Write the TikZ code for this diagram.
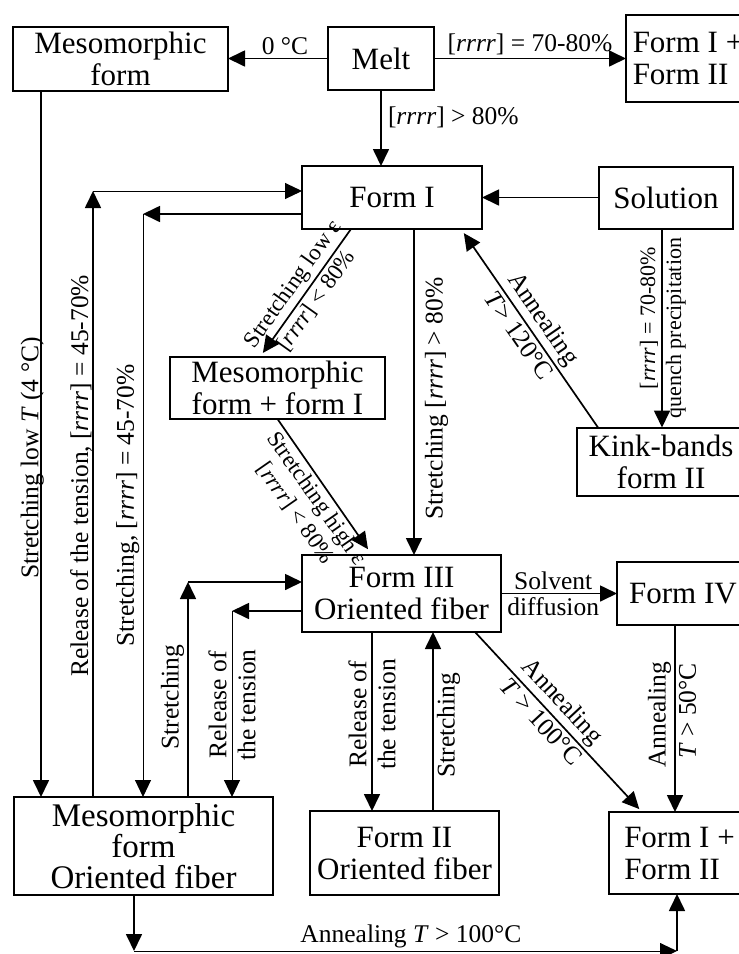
\documentclass[tikz,border=0pt]{standalone}
\usepackage{fontspec}
\setmainfont{Liberation Serif}
\usetikzlibrary{shapes,arrows.meta,positioning}
\tikzstyle{block} = [rectangle, draw, line width=1pt, outer sep=0pt, align=center, inner sep=2pt, font=\fontsize{15.5pt}{16pt}\selectfont]
\tikzstyle{blockl} = [block, font=\fontsize{16.5pt}{15.5pt}\selectfont]
\tikzstyle{line} = [draw, line width=0.85pt, -{Triangle[length=8.5pt, width=8pt]}]
\tikzstyle{thinline} = [line, line width=0.5pt]
\tikzstyle{lab} = [inner sep=1.5pt, align=center, font=\fontsize{12.75pt}{14.5pt}\selectfont]
\tikzstyle{labd} = [lab, font=\fontsize{11.5pt}{13pt}\selectfont]
\tikzstyle{labs} = [lab, font=\fontsize{11pt}{12pt}\selectfont]
\newcommand{\rrrr}{[\textit{rrrr}]}

\begin{document}
\begin{tikzpicture}
    \useasboundingbox (0,0) rectangle (369.5pt,-477pt);
    % boxes
    \node [block, minimum width=53pt, minimum height=31.5pt] (melt) at (190.5pt,-29.25pt) {Melt};
    \node [block, minimum width=107.5pt, minimum height=32pt, left=50pt of melt] (meso) {Mesomorphic\\form};
    \node [block, minimum width=62pt, minimum height=43.5pt, align=left, right=96pt of melt] (ftop) {Form I +\\Form II};
    \node [block, minimum width=90pt, minimum height=31.5pt, below=38pt of melt, xshift=5.5pt] (form1) {Form I};
    \node [block, minimum width=67pt, minimum height=31pt, right=58.5pt of form1] (solution) {Solution};
    \node [block, minimum width=107.5pt, minimum height=31pt, below=64pt of form1, xshift=-57.25pt] (mesoI) {Mesomorphic\\form + form I};
    \node [block, minimum width=84pt, minimum height=34pt, below=99.5pt of solution, xshift=-2.5pt] (kink) {Kink-bands\\form II};
    \node [block, minimum width=99.5pt, minimum height=38.5pt, below=163pt of form1, xshift=4.75pt] (form3) {Form III\\Oriented fiber};
    \node [block, minimum width=66pt, minimum height=31.5pt, right=58pt of form3] (form4) {Form IV};
    \node [block, minimum width=94.5pt, minimum height=42pt, below=89.5pt of form3, xshift=1.5pt] (form2) {Form II\\Oriented fiber};
    \node [block, minimum width=70.5pt, minimum height=41pt, align=left, right=55pt of form2] (fbot) {Form I +\\Form II};
    \node [blockl, minimum width=129.5pt, minimum height=49pt, left=18.5pt of form2, yshift=3.5pt] (mesofib) {Mesomorphic\\form\\Oriented fiber};

    % from the melt
    \path [line] (melt) -- node[lab, above, pos=0.43] {0 °C} (meso);
    \path [line] (melt) -- node[lab, above] {\rrrr{} = 70-80\%} (ftop);
    \path [line] (melt.south) -- node[lab, right, outer sep=2pt, pos=0.36] {\rrrr{} > 80\%} (melt.south |- form1.north);

    % around form I
    \path [line] (solution) -- (form1);
    \coordinate [right=11pt of form1.south] (form1s);
    \path [line] (form1s) -- node[lab, rotate=90, anchor=north, outer sep=4pt, pos=0.52] {Stretching \rrrr{} > 80\%} (form1s |- form3.north);
    \coordinate [left=2pt of solution.south] (sols);
    \path [line] (sols) -- node[labs, rotate=90, anchor=south, pos=0.45] {\rrrr{} = 70-80\%} node[labs, rotate=90, anchor=north, pos=0.5] {quench precipitation} (sols |- kink.north);
    \coordinate [right=10.5pt of kink.north west] (kinkn);
    \coordinate [left=10.5pt of form1.south east] (form1se);
    \path [line, shorten >=2.5pt] (kinkn) -- node[lab, sloped, above] {Annealing} node[lab, sloped, below] {\textit{T}> 120°C} (form1se);
    \coordinate [right=24.5pt of form1.south west] (form1sw);
    \coordinate [right=45pt of mesoI.north west] (mesoIn);
    \path [line, shorten >=2.5pt] (form1sw) -- node[labd, sloped, above] {Stretching low ε} node[labd, sloped, below] {\rrrr{} < 80\%} (mesoIn);
    \coordinate [right=35pt of form3.north west] (form3nw);
    \path [line, shorten >=3.5pt] (mesoI.south) -- node[labd, sloped, below, pos=0.53] {Stretching high ε\\\rrrr{} < 80\%} (form3nw);

    % left side
    \coordinate [right=14pt of meso.south west] (mesod);
    \path [line] (mesod) -- node[lab, rotate=90, anchor=south, inner sep=0pt, outer sep=-1.5pt, pos=0.52] {Stretching low \textit{T} (4 °C)} (mesod |- mesofib.north);
    \coordinate [above=3.25pt of form1.west] (form1w);
    \coordinate [right=39.5pt of mesofib.north west] (mesofa);
    \path [line] (mesofa) -- node[lab, rotate=90, anchor=south, inner sep=0pt, pos=0.53] {Release of the tension, \rrrr{} = 45-70\%} (mesofa |- form1w);
    \path [thinline] (mesofa |- form1w) -- (form1w);
    \coordinate [below=8.25pt of form1.west] (form1w2);
    \coordinate [right=64.5pt of mesofib.north west] (mesofb);
    \path [line] (form1w2) -- (mesofb |- form1w2);
    \path [thinline] (mesofb |- form1w2) -- node[lab, rotate=90, anchor=south, pos=0.5] {Stretching, \rrrr{} = 45-70\%} (mesofb);

    % around form III
    \coordinate [below=8.75pt of form3.west] (form3w);
    \coordinate [right=109pt of mesofib.north west] (mesofc);
    \path [line] (form3w) -- (mesofc |- form3w);
    \path [thinline] (mesofc |- form3w) -- node[lab, rotate=90, pos=0.505] {Release of\\the tension} (mesofc);
    \coordinate [above=5.75pt of form3.west] (form3w2);
    \coordinate [right=87pt of mesofib.north west] (mesofd);
    \path [line] (mesofd) -- node[lab, rotate=90, anchor=south, pos=0.465] {Stretching} (mesofd |- form3w2);
    \path [line] (mesofd |- form3w2) -- (form3w2);
    \path [line] (form3) -- node[lab, above, pos=0.45] {Solvent} node[lab, below, pos=0.45] {diffusion} (form4);
    \coordinate [right=35pt of form3.south west] (form3sa);
    \coordinate [right=65.5pt of form3.south west] (form3sb);
    \path [line] (form3sa) -- node[lab, rotate=90, pos=0.46] {Release of\\the tension} (form3sa |- form2.north);
    \path [line] (form3sb |- form2.north) -- node[lab, rotate=90, anchor=north, pos=0.48] {Stretching} (form3sb);
    \coordinate [right=86.5pt of form3.south west] (form3sc);
    \coordinate [right=16.5pt of fbot.north west] (fbotn);
    \path [line, shorten >=2pt] (form3sc) -- node[lab, sloped, above, pos=0.45] {Annealing} node[lab, sloped, below, pos=0.45] {\textit{T} > 100°C} (fbotn);
    \coordinate [left=4pt of form4.south] (form4s);
    \path [line] (form4s) -- node[lab, rotate=90, anchor=south, pos=0.48] {Annealing} node[lab, rotate=90, anchor=north, pos=0.46] {\textit{T} > 50°C} (form4s |- fbot.north);

    % bottom annealing path
    \coordinate [right=60pt of mesofib.south west] (mesofs);
    \coordinate [below=28pt of mesofs] (mesofe);
    \coordinate [right=34pt of fbot.south west] (fbots);
    \path [line] (mesofs) -- (mesofe);
    \path [thinline] (mesofe) -- node[lab, above, pos=0.51] {Annealing \textit{T} > 100°C} (fbots |- mesofe);
    \path [line] (fbots |- mesofe) -- (fbots);
\end{tikzpicture}
\end{document}
